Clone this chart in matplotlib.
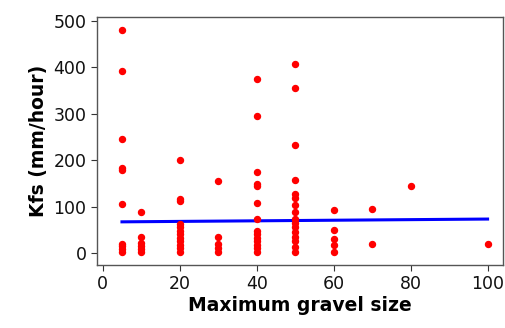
import matplotlib
matplotlib.use("Agg")
import matplotlib.pyplot as plt

gravel_size = ([5]*10 + [10]*6 + [20]*12 + [30]*5 + [40]*14 + [50]*16 +
               [60]*5 + [70]*2 + [80] + [100])
kfs = ([481, 392, 246, 182, 178, 106, 20, 14, 8, 2] +
       [88, 35, 22, 14, 8, 2] +
       [200, 116, 111, 62, 55, 48, 40, 32, 25, 18, 10, 3] +
       [155, 35, 20, 10, 3] +
       [374, 294, 175, 148, 145, 108, 73, 47, 40, 32, 25, 18, 10, 3] +
       [407, 355, 232, 157, 128, 119, 103, 88, 73, 65, 55, 45, 35, 25, 12, 3] +
       [93, 49, 31, 17, 3] +
       [95, 19] + [144] + [19])

fit_x = [5, 100]
fit_y = [67, 73]

fig = plt.figure(figsize=(5.05, 3.28), dpi=100)
ax = fig.add_axes([0.192, 0.192, 0.804, 0.756])

ax.plot(gravel_size, kfs, 'o', color='#ff0000', ms=4.3, mec='#ff0000', zorder=3)
ax.plot(fit_x, fit_y, '-', color='#0000ff', lw=2.2, zorder=2)

ax.set_xlim(-1.5, 104)
ax.set_ylim(-26, 508)
ax.set_xticks([0, 20, 40, 60, 80, 100])
ax.set_yticks([0, 100, 200, 300, 400, 500])
ax.tick_params(labelsize=12.5, length=4, color='#333333', labelcolor='#111111')
for s in ax.spines.values():
    s.set_color('#555555')
    s.set_linewidth(1.0)
ax.set_xlabel('Maximum gravel size', fontsize=13.5, fontweight='bold', labelpad=2)
ax.set_ylabel('Kfs (mm/hour)', fontsize=13.5, fontweight='bold', labelpad=4)

fig.savefig('out.png', dpi=100)
